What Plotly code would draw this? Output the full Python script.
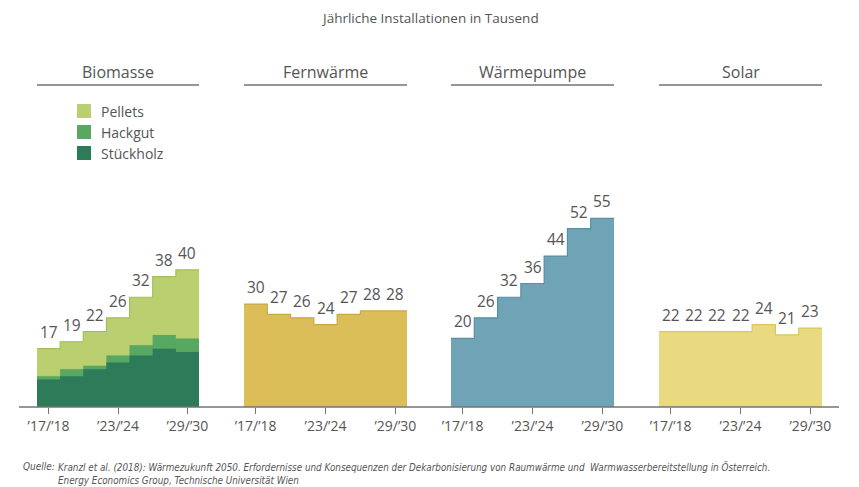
import plotly.graph_objects as go

# ---------------- data ----------------
periods = ["'17/'18", "'19/'20", "'21/'22", "'23/'24", "'25/'26", "'27/'28", "'29/'30"]
tick_idx = [0, 3, 6]
tick_labels = ["’17/’18", "’23/’24", "’29/’30"]

stueckholz = [8, 9, 11, 13, 15, 17, 16]
hackgut = [1, 2, 1, 2, 3, 4, 4]
pellets = [8, 8, 10, 11, 14, 17, 20]

fernwaerme = [30, 27, 26, 24, 27, 28, 28]
waermepumpe = [20, 26, 32, 36, 44, 52, 55]
solar = [22, 22, 22, 22, 24, 21, 23]

panel_titles = ["Biomasse", "Fernwärme", "Wärmepumpe", "Solar"]
legend_names = ["Pellets", "Hackgut", "Stückholz"]

title_text = "Jährliche Installationen in Tausend"
source_label = "Quelle:"
source_text = ("Kranzl et al. (2018): Wärmezukunft 2050. Erfordernisse und Konsequenzen der "
               "Dekarbonisierung von Raumwärme und  Warmwasserbereitstellung in Österreich.<br>"
               "Energy Economics Group, Technische Universität Wien")

# ---------------- styling ----------------
W, H = 859, 487
FONT = "Open Sans, Noto Sans, sans-serif"
TXT = "#555555"
AX = "#737373"
C_PEL, C_HAC, C_STU = "#b9cf70", "#58a862", "#2e7b5a"
C_FW, C_WP, C_SO = "#dbbe57", "#6fa3b6", "#e9da82"
L_PEL, L_FW, L_WP, L_SO = "#a6bf5c", "#c9a840", "#5a8ea3", "#dcc55e"

panel_px = [(37, 199), (244, 407), (451, 614), (659, 822)]
base_px = 407
top_px = 201.2
ymax = 60


def px(x):
    return x / W


def py(y):
    return (H - y) / H


fig = go.Figure()

n = len(periods)
xs = list(range(n + 1))


def ext(v):
    return list(v) + [v[-1]]


cum2 = [a + b for a, b in zip(stueckholz, hackgut)]
total_bio = [a + b for a, b in zip(cum2, pellets)]

series = [
    (0, total_bio, C_PEL, L_PEL, 1.2),
    (0, cum2, C_HAC, C_HAC, 0),
    (0, stueckholz, C_STU, C_STU, 0),
    (1, fernwaerme, C_FW, L_FW, 1.2),
    (2, waermepumpe, C_WP, L_WP, 1.2),
    (3, solar, C_SO, L_SO, 1.2),
]

for ax_i, vals, fc, lc, lw in series:
    xa = "x" if ax_i == 0 else f"x{ax_i + 1}"
    fig.add_trace(go.Scatter(
        x=xs, y=ext(vals), xaxis=xa, yaxis="y",
        mode="lines", line=dict(shape="hv", color=lc, width=lw if lw else 0.1),
        fill="tozeroy", fillcolor=fc, hoverinfo="skip", showlegend=False,
    ))

annotations = []
label_sets = [total_bio, fernwaerme, waermepumpe, solar]
for ax_i, vals in enumerate(label_sets):
    xr = "x" if ax_i == 0 else f"x{ax_i + 1}"
    for i, v in enumerate(vals):
        annotations.append(dict(
            x=i + 0.5, y=v, xref=xr, yref="y", text=str(v), showarrow=False,
            yanchor="bottom", xanchor="center", yshift=5, bgcolor="white",
            borderpad=0, font=dict(family=FONT, size=15.5, color=TXT),
        ))

layout = dict(
    width=W, height=H, margin=dict(l=0, r=0, t=0, b=0, autoexpand=False),
    paper_bgcolor="white", plot_bgcolor="rgba(0,0,0,0)", showlegend=False,
    yaxis=dict(range=[0, ymax], domain=[py(base_px), py(top_px)], visible=False,
               anchor="x", fixedrange=True),
)
for ax_i, (l, r) in enumerate(panel_px):
    key = "xaxis" if ax_i == 0 else f"xaxis{ax_i + 1}"
    layout[key] = dict(
        range=[0, n], domain=[px(l), px(r)], anchor="y", automargin=False,
        tickvals=[i + 0.5 for i in tick_idx], ticktext=tick_labels,
        ticks="outside", ticklen=6, tickcolor=AX, tickwidth=1,
        showline=False, showgrid=False, zeroline=False, fixedrange=True,
        tickfont=dict(family=FONT, size=14, color=TXT),
    )
fig.update_layout(**layout)

shapes = []
shapes.append(dict(type="line", xref="paper", yref="paper",
                   x0=px(19), x1=px(839), y0=py(base_px), y1=py(base_px),
                   line=dict(color=AX, width=1.5), layer="above"))
for (l, r), t in zip(panel_px, panel_titles):
    shapes.append(dict(type="line", xref="paper", yref="paper",
                       x0=px(l), x1=px(r), y0=py(85), y1=py(85),
                       line=dict(color=AX, width=1.5)))
    annotations.append(dict(x=px((l + r) / 2), y=py(72), xref="paper", yref="paper",
                            text=t, showarrow=False, xanchor="center", yanchor="middle",
                            font=dict(family=FONT, size=16, color=TXT)))
for k, (name, col) in enumerate(zip(legend_names, [C_PEL, C_HAC, C_STU])):
    yc = 111 + 21 * k
    shapes.append(dict(type="rect", xref="paper", yref="paper",
                       x0=px(77), x1=px(91), y0=py(yc + 7), y1=py(yc - 7),
                       fillcolor=col, line=dict(width=0)))
    annotations.append(dict(x=px(99), y=py(yc), xref="paper", yref="paper",
                            text=name, showarrow=False, xanchor="left", yanchor="middle",
                            font=dict(family=FONT, size=14, color=TXT)))
annotations.append(dict(x=px(430), y=py(18), xref="paper", yref="paper",
                        text=title_text, showarrow=False, xanchor="center", yanchor="middle",
                        font=dict(family=FONT, size=13.5, color=TXT)))
SRC_FONT = "Liberation Sans Narrow, Arial Narrow, DejaVu Sans Condensed, sans-serif"
annotations.append(dict(x=px(21), y=py(466), xref="paper", yref="paper",
                        text="<i>" + source_label + "</i>", showarrow=False,
                        xanchor="left", yanchor="middle",
                        font=dict(family=SRC_FONT, size=10, color=TXT)))
annotations.append(dict(x=px(56), y=py(459), xref="paper", yref="paper",
                        text="<i>" + source_text + "</i>", showarrow=False, align="left",
                        xanchor="left", yanchor="top",
                        font=dict(family=SRC_FONT, size=9.8, color=TXT)))

fig.update_layout(shapes=shapes, annotations=annotations)
fig.write_html("out.html", config={"displayModeBar": False},
               post_script="document.body.style.margin='0';document.body.style.overflow='hidden';")
